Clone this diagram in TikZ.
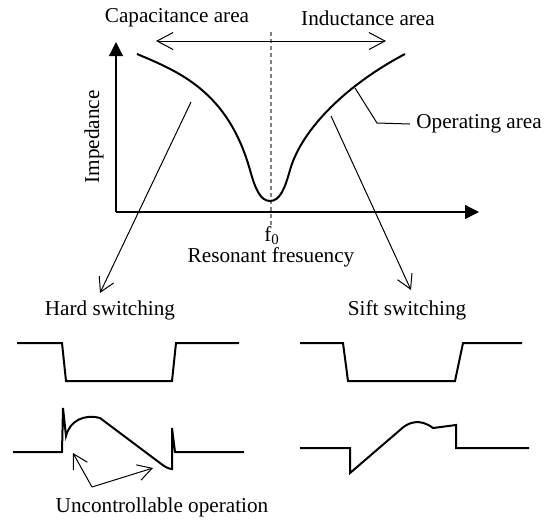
\documentclass[tikz,border=0pt]{standalone}
\usepackage{fontspec}
\setmainfont{Liberation Serif}
\usetikzlibrary{arrows.meta}

\begin{document}
\begin{tikzpicture}[x=0.5pt, y=-0.5pt,
  every node/.style={inner sep=0pt, font=\fontsize{10.6}{12}\selectfont},
  axis/.style={line width=0.65pt, -{Triangle[length=7pt,width=7pt]}},
  curve/.style={line width=1pt},
  wave/.style={line width=1pt, line join=miter},
  pointer/.style={line width=0.5pt, -{Straight Barb[length=7pt,width=8pt]}},
  span/.style={line width=0.5pt, {Straight Barb[length=8pt,width=8.5pt]}-{Straight Barb[length=8pt,width=8.5pt]}},
  leader/.style={line width=0.5pt},
  fline/.style={gray, line width=0.6pt, dash pattern=on 2pt off 1.5pt}
]
\useasboundingbox (0,0) rectangle (549,521);

% axes
\coordinate (origin) at (116,212);
\coordinate (ytip) at (116,42);
\coordinate (xtip) at (479,212);
\draw[axis] (origin) -- (ytip);
\draw[axis] (origin) -- (xtip);

% resonance line and areas
\coordinate (ftop) at (271,32);
\coordinate (fbot) at (271,228);
\draw[fline] (ftop) -- (fbot);
\coordinate (capend) at (156,41);
\coordinate (indend) at (386,41);
\draw[span] (capend) -- (indend);

% impedance curve
\draw[curve] (137,54) .. controls (180,72) and (228,92) .. (250,170)
  .. controls (255,188) and (260,201) .. (270,201)
  .. controls (280,201) and (285,188) .. (290,170)
  .. controls (302,128) and (348,84) .. (405,54);

% labels
\node (cap) at (177,18) {Capacitance area};
\node (ind) at (368,18) {Inductance area};
\node[rotate=90] (imp) at (94,137) {Impedance};
\node[anchor=west] (op) at (416,124) {Operating area};
\node[anchor=base] (f0) at (272,241) {f\textsubscript{0}};
\node (res) at (271,257.5) {Resonant fresuency};
\node (hard) at (110,310) {Hard switching};
\node (soft) at (407,310) {Sift switching};
\node (unc) at (162,507) {Uncontrollable operation};

% leader to operating area
\coordinate (opfrom) at (355,88);
\coordinate (opbend) at (377,123);
\draw[leader] (opfrom) -- (opbend) -- ([xshift=-3pt]op.west);

% pointers to switching modes
\coordinate (capfrom) at (191,102);
\coordinate (hardtip) at (100,293);
\coordinate (indfrom) at (331,116);
\coordinate (softtip) at (411,290);
\draw[pointer] (capfrom) -- (hardtip);
\draw[pointer] (indfrom) -- (softtip);

% gate signals
\draw[wave] (17,343) -- (62,343) -- (66,381) -- (172,381) -- (176,343) -- (239,343);
\draw[wave] (300,343) -- (343,343) -- (348,381) -- (455,381) -- (463,343) -- (522,343);

% hard switching current
\draw[wave] (13,452) -- (62,452) -- (63,408) -- (66,436)
  .. controls (70,420) and (85,414) .. (100,418) -- (160,463)
  .. controls (165,467) and (169,469) .. (172,469) -- (172,428) -- (175,452) -- (244,452);

% soft switching current
\draw[wave] (300,448) -- (350,448) -- (350,473) -- (400,430)
  .. controls (408,422) and (420,418) .. (433,428) -- (456,425) -- (456,448) -- (529,448);

% uncontrollable operation
\coordinate (uncfrom) at (92,487);
\coordinate (unctip1) at (73,453);
\coordinate (unctip2) at (153,468);
\draw[pointer] (uncfrom) -- (unctip1);
\draw[pointer] (uncfrom) -- (unctip2);
\end{tikzpicture}
\end{document}
